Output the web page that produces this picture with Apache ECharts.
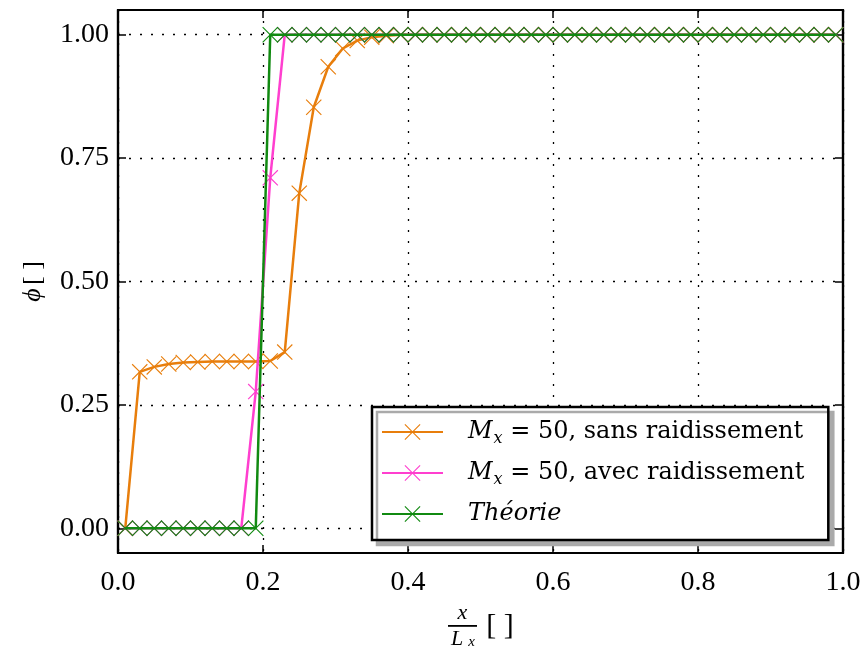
<!DOCTYPE html>
<html>
<head>
<meta charset="utf-8">
<script src="https://cdn.jsdelivr.net/npm/echarts@6/dist/echarts.min.js"></script>
<style>
    html, body {margin: 0; padding: 0; background: #fff;}
    #chart {width: 866px; height: 648px;}
</style>
</head>
<body>
<div id="chart"></div>
<script>
// cell centres, Mx = 50
const xCells = [0.01, 0.03, 0.05, 0.07, 0.09, 0.11, 0.13, 0.15, 0.17, 0.19,
    0.21, 0.23, 0.25, 0.27, 0.29, 0.31, 0.33, 0.35, 0.37, 0.39,
    0.41, 0.43, 0.45, 0.47, 0.49, 0.51, 0.53, 0.55, 0.57, 0.59,
    0.61, 0.63, 0.65, 0.67, 0.69, 0.71, 0.73, 0.75, 0.77, 0.79,
    0.81, 0.83, 0.85, 0.87, 0.89, 0.91, 0.93, 0.95, 0.97, 0.99];

const sansRaid = [0, 0.317, 0.327, 0.333, 0.336, 0.337, 0.338, 0.338, 0.338, 0.338,
    0.339, 0.357, 0.679, 0.853, 0.935, 0.972, 0.988, 0.995, 0.998, 1,
    1, 1, 1, 1, 1, 1, 1, 1, 1, 1,
    1, 1, 1, 1, 1, 1, 1, 1, 1, 1,
    1, 1, 1, 1, 1, 1, 1, 1, 1, 1];

const avecRaid = [0, 0, 0, 0, 0, 0, 0, 0, 0, 0.277,
    0.71, 1, 1, 1, 1, 1, 1, 1, 1, 1,
    1, 1, 1, 1, 1, 1, 1, 1, 1, 1,
    1, 1, 1, 1, 1, 1, 1, 1, 1, 1,
    1, 1, 1, 1, 1, 1, 1, 1, 1, 1];

const theorie = [0, 0, 0, 0, 0, 0, 0, 0, 0, 0,
    1, 1, 1, 1, 1, 1, 1, 1, 1, 1,
    1, 1, 1, 1, 1, 1, 1, 1, 1, 1,
    1, 1, 1, 1, 1, 1, 1, 1, 1, 1,
    1, 1, 1, 1, 1, 1, 1, 1, 1, 1];

const yTicks = [0, 0.25, 0.5, 0.75, 1];
const seriesNames = ['sans', 'avec', 'theorie'];
const seriesColors = ['#e87e0c', '#ff3fcf', '#118a11'];

const FONT = "'Liberation Serif'";
const LFONT = "'DejaVu Serif'";
const CROSS = 'path://M0,1L1,0L10,9L19,0L20,1L11,10L20,19L19,20L10,11L1,20L0,19L9,10Z';

function pairs(ys) {
    return xCells.map((x, i) => [x, ys[i]]);
}

let chartDom = document.getElementById('chart');
let myChart = echarts.init(chartDom);
let option;

const legendText = {
    sans: '{it|M}{sub|x}{t| = 50, sans raidissement}',
    avec: '{it|M}{sub|x}{t| = 50, avec raidissement}',
    theorie: '{it|Théorie}'
};

const richLegend = {
    it: {fontFamily: LFONT, fontStyle: 'italic', fontSize: 24, lineHeight: 30},
    sub: {fontFamily: LFONT, fontStyle: 'italic', fontSize: 16, lineHeight: 30, verticalAlign: 'bottom', padding: [10, 0, 0, 1]},
    t: {fontFamily: LFONT, fontSize: 24, lineHeight: 30}
};

option = {
    animation: false,
    backgroundColor: '#fff',
    grid: {
        left: 118, right: 23, top: 10, bottom: 95,
        outerBoundsMode: 'none', containLabel: false,
        show: true, borderColor: '#000', borderWidth: 2.2
    },
    legend: {
        left: 372, top: 407,
        orient: 'vertical',
        itemWidth: 61, itemHeight: 20, itemGap: 14,
        padding: [13, 24, 14, 9],
        backgroundColor: '#fff',
        borderColor: '#000', borderWidth: 2.5, borderRadius: 0,
        shadowColor: '#aaaaaa', shadowBlur: 0, shadowOffsetX: 5, shadowOffsetY: 5,
        data: seriesNames,
        formatter: name => legendText[name],
        textStyle: {fontFamily: LFONT, fontSize: 24, color: '#000', padding: [0, 0, 0, 20], rich: richLegend}
    },
    xAxis: [{
        type: 'value', min: 0, max: 1, interval: 0.2,
        axisLine: {show: true, onZero: false, lineStyle: {color: '#000', width: 2.2}},
        axisTick: {inside: true, length: 8, lineStyle: {color: '#000', width: 1.5}},
        axisLabel: {margin: 16, fontFamily: FONT, fontSize: 28, color: '#000', formatter: v => v.toFixed(1)},
        splitLine: {show: true, lineStyle: {color: '#000', width: 1.3, type: [2, 9]}},
        name: '{num|x}{pad|}\n{bar|}{gap|}{br|[ ]}\n{den|L}{sub|x}{pad|}',
        nameLocation: 'middle', nameGap: 40,
        nameTextStyle: {
            rich: {
                num: {fontFamily: FONT, fontStyle: 'italic', fontSize: 22, lineHeight: 22, width: 29, align: 'center', color: '#000'},
                pad: {width: 36, lineHeight: 22},
                bar: {width: 29, height: 1.8, lineHeight: 4, backgroundColor: '#000', verticalAlign: 'middle'},
                gap: {width: 10, lineHeight: 4},
                br: {fontFamily: FONT, fontSize: 30, lineHeight: 4, width: 26, verticalAlign: 'middle', color: '#000'},
                den: {fontFamily: FONT, fontStyle: 'italic', fontSize: 22, lineHeight: 22, width: 18, align: 'right', color: '#000'},
                sub: {fontFamily: FONT, fontStyle: 'italic', fontSize: 15, lineHeight: 22, width: 11, align: 'left', verticalAlign: 'bottom', color: '#000'}
            }
        }
    }, {
        type: 'value', min: 0, max: 1, interval: 0.2, position: 'top',
        axisLine: {show: true, onZero: false, lineStyle: {color: '#000', width: 2.2}},
        axisTick: {inside: true, length: 8, lineStyle: {color: '#000', width: 1.5}},
        axisLabel: {show: false},
        splitLine: {show: false}
    }],
    yAxis: [{
        type: 'value', min: -0.05, max: 1.05,
        axisLine: {show: true, onZero: false, lineStyle: {color: '#000', width: 2.2}},
        axisTick: {inside: true, length: 8, customValues: yTicks, lineStyle: {color: '#000', width: 1.5}},
        axisLabel: {margin: 9, fontFamily: FONT, fontSize: 28, color: '#000', customValues: yTicks, formatter: v => v.toFixed(2)},
        splitLine: {show: true, lineStyle: {color: '#000', width: 1.3, type: [2, 9]}},
        name: '{phi|ϕ} {br|[ ]}',
        nameLocation: 'middle', nameGap: 72,
        nameTextStyle: {
            rich: {
                phi: {fontFamily: FONT, fontStyle: 'italic', fontSize: 26, color: '#000'},
                br: {fontFamily: FONT, fontSize: 26, color: '#000'}
            }
        }
    }, {
        type: 'value', min: -0.05, max: 1.05, position: 'right',
        axisLine: {show: true, onZero: false, lineStyle: {color: '#000', width: 2.2}},
        axisTick: {inside: true, length: 8, customValues: yTicks, lineStyle: {color: '#000', width: 1.5}},
        axisLabel: {show: false},
        splitLine: {show: false}
    }],
    series: [sansRaid, avecRaid, theorie].map((ys, i) => ({
        name: seriesNames[i],
        type: 'line',
        data: pairs(ys),
        symbol: CROSS,
        symbolSize: 16,
        showAllSymbol: true,
        color: seriesColors[i],
        lineStyle: {width: 2.5, color: seriesColors[i]},
        itemStyle: {color: seriesColors[i]},
        z: 3 + i
    }))
};

option && myChart.setOption(option);
</script>
</body>
</html>
